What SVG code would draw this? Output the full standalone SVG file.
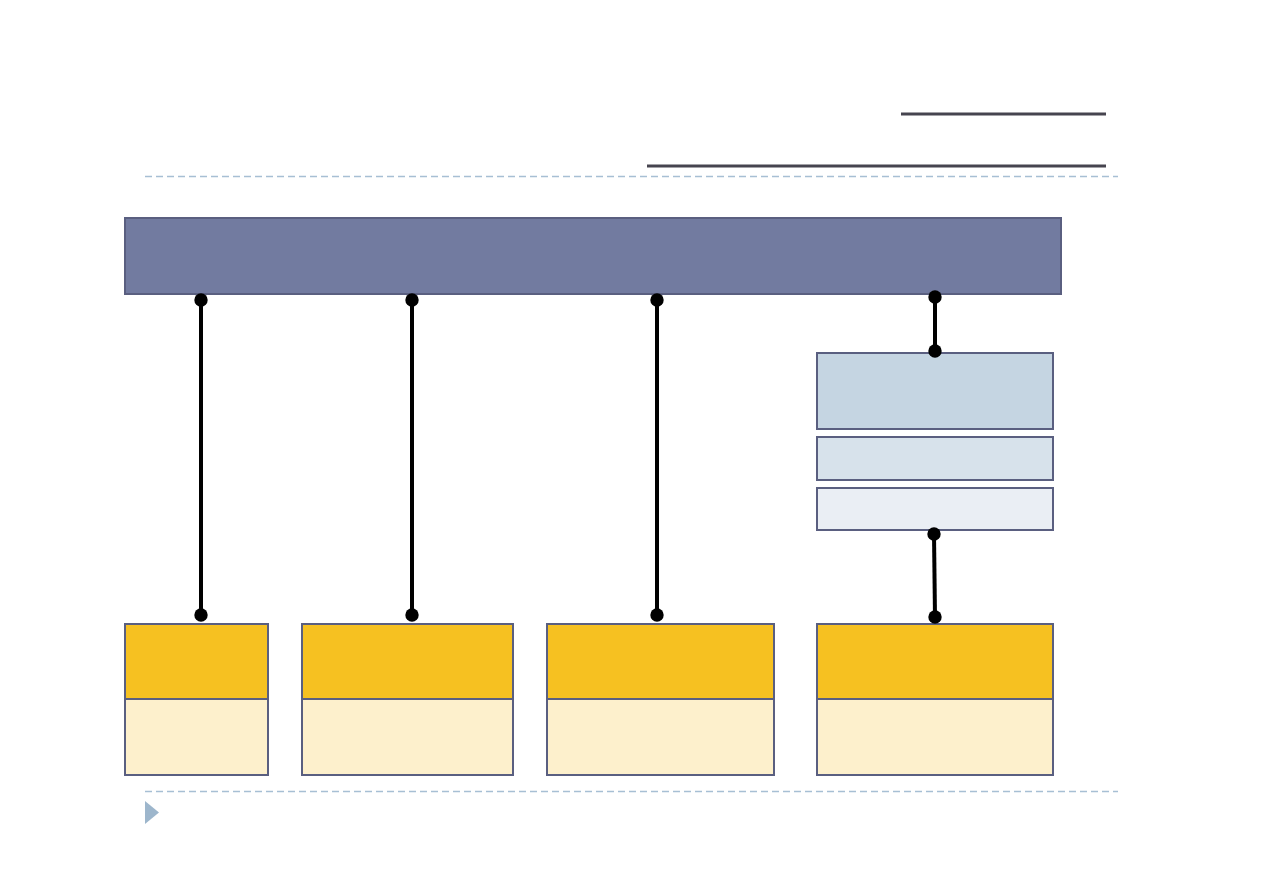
<svg xmlns="http://www.w3.org/2000/svg" width="1263" height="893" viewBox="0 0 1263 893">
<style>
.box{stroke:#5A5F80;stroke-width:2}
.dash{stroke:#A7BFD4;stroke-width:1.3;stroke-dasharray:7 4;fill:none}
.conn{stroke:#000;stroke-width:4;fill:none}
.rule{stroke:#46444F;stroke-width:3}
</style>
<defs>
<marker id="dot" viewBox="0 0 14 14" refX="7" refY="7" markerWidth="14" markerHeight="14" markerUnits="userSpaceOnUse"><circle cx="7" cy="7" r="6.7" fill="#000"/></marker>
</defs>
<rect width="1263" height="893" fill="#fff"/>
<line class="rule" x1="901" y1="114" x2="1106" y2="114"/>
<line class="rule" x1="647" y1="166" x2="1106" y2="166"/>
<line class="dash" x1="145" y1="176.5" x2="1118" y2="176.5"/>
<line class="dash" x1="145" y1="791.5" x2="1118" y2="791.5"/>
<polygon points="145,801 159,812.5 145,824" fill="#9DB6CC"/>
<g id="top-bar"><rect class="box" x="125" y="218" width="936" height="76" fill="#727BA0"/></g>
<g id="stack-1"><rect class="box" x="817" y="353" width="236" height="76" fill="#C5D5E2"/></g>
<g id="stack-2"><rect class="box" x="817" y="437" width="236" height="43" fill="#D7E2EB"/></g>
<g id="stack-3"><rect class="box" x="817" y="488" width="236" height="42" fill="#EAEEF4"/></g>
<g id="node-1"><rect class="box" x="125" y="624" width="143" height="75" fill="#F6C121"/><rect class="box" x="125" y="699" width="143" height="76" fill="#FDF0CC"/></g>
<g id="node-2"><rect class="box" x="302" y="624" width="211" height="75" fill="#F6C121"/><rect class="box" x="302" y="699" width="211" height="76" fill="#FDF0CC"/></g>
<g id="node-3"><rect class="box" x="547" y="624" width="227" height="75" fill="#F6C121"/><rect class="box" x="547" y="699" width="227" height="76" fill="#FDF0CC"/></g>
<g id="node-4"><rect class="box" x="817" y="624" width="236" height="75" fill="#F6C121"/><rect class="box" x="817" y="699" width="236" height="76" fill="#FDF0CC"/></g>
<g id="connectors">
<line class="conn" x1="201" y1="300" x2="201" y2="615" marker-start="url(#dot)" marker-end="url(#dot)"/>
<line class="conn" x1="412" y1="300" x2="412" y2="615" marker-start="url(#dot)" marker-end="url(#dot)"/>
<line class="conn" x1="657" y1="300" x2="657" y2="615" marker-start="url(#dot)" marker-end="url(#dot)"/>
<line class="conn" x1="935" y1="297" x2="935" y2="351" marker-start="url(#dot)" marker-end="url(#dot)"/>
<line class="conn" x1="934" y1="534" x2="935" y2="617" marker-start="url(#dot)" marker-end="url(#dot)"/>
</g>
</svg>
